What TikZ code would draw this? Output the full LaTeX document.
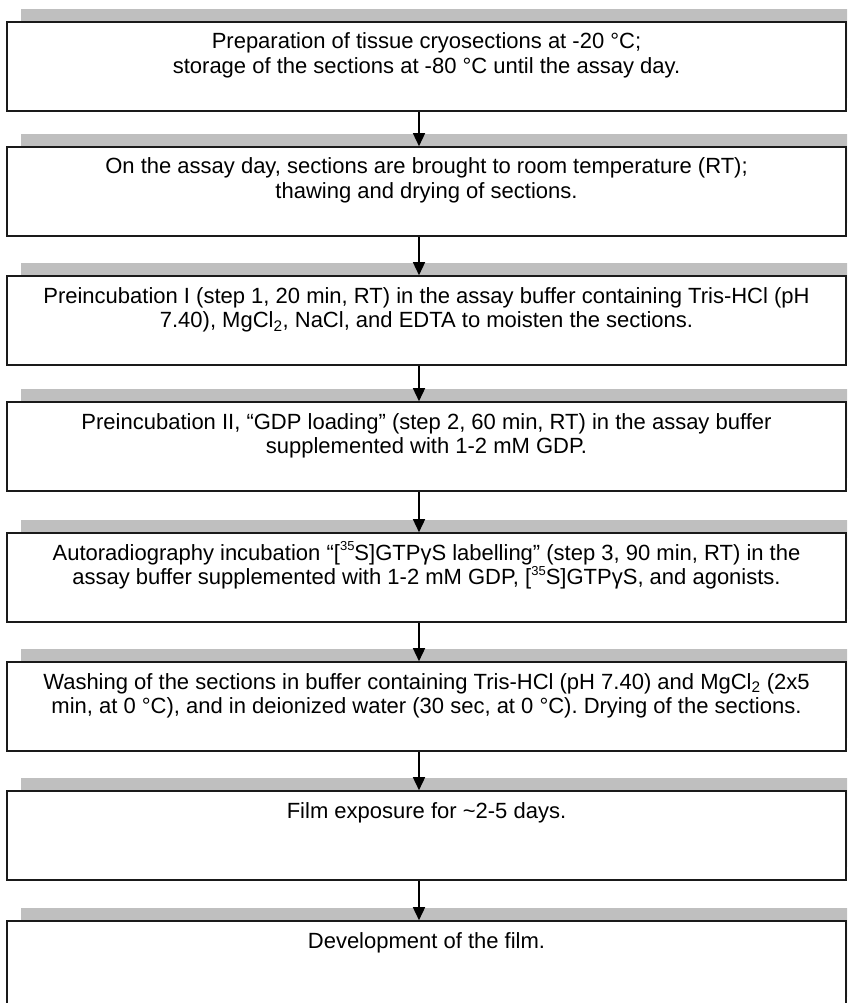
\documentclass[tikz,border=0pt]{standalone}
\usepackage{fontspec}
\setmainfont{Liberation Sans}
\usetikzlibrary{arrows.meta,shadows}
\definecolor{band}{HTML}{BFBFBF}
\definecolor{ink}{HTML}{1A1A1A}
\newcommand{\steplines}[1]{\parbox[t]{836pt}{\centering\fontsize{22}{24.5}\selectfont #1}}
\newcommand{\isotopesup}{\raisebox{0.8ex}{\fontsize{13}{13}\selectfont 35}}
\begin{document}
\begin{tikzpicture}[x=1pt,y=-1pt,
  stepbox/.style={draw=ink, line width=1.6pt, fill=white, minimum width=839pt,
    minimum height=89pt, inner sep=0pt,
    drop shadow={shadow xshift=14pt, shadow yshift=13pt, fill=band, opacity=1}},
  steptext/.style={anchor=base, inner sep=0pt},
  flow/.style={draw=black, line width=1.5pt, -{Triangle[width=12pt,length=13pt]}}]
\useasboundingbox (0,0) rectangle (847,1003);
\begin{scope}
\clip (0,0) rectangle (847,1003);
\coordinate (ax) at (419,0);
% boxes
\node[stepbox] (b1) at (426.5, 66.5) {};
\node[stepbox] (b2) at (426.5,191.5) {};
\node[stepbox] (b3) at (426.5,320.5) {};
\node[stepbox] (b4) at (426.5,446.5) {};
\node[stepbox] (b5) at (426.5,577.5) {};
\node[stepbox] (b6) at (426.5,706.5) {};
\node[stepbox] (b7) at (426.5,835.5) {};
\node[stepbox] (b8) at (426.5,965.5) {};
% texts
\node[steptext] (t1) at (426.5, 49) {\steplines{Preparation of tissue cryosections at -20 °C;\\ storage of the sections at -80 °C until the assay day.}};
\node[steptext] (t2) at (426.5,174) {\steplines{On the assay day, sections are brought to room temperature (RT);\\ thawing and drying of sections.}};
\node[steptext] (t3) at (426.5,303) {\steplines{Preincubation I (step 1, 20 min, RT) in the assay buffer containing Tris-HCl (pH\\ 7.40), MgCl\textsubscript{2}, NaCl, and EDTA to moisten the sections.}};
\node[steptext] (t4) at (426.5,429) {\steplines{Preincubation II, “GDP loading” (step 2, 60 min, RT) in the assay buffer\\ supplemented with 1-2 mM GDP.}};
\node[steptext] (t5) at (426.5,560) {\steplines{Autoradiography incubation “[\isotopesup S]GTPγS labelling” (step 3, 90 min, RT) in the\\ assay buffer supplemented with 1-2 mM GDP, [\isotopesup S]GTPγS, and agonists.}};
\node[steptext] (t6) at (426.5,689) {\steplines{Washing of the sections in buffer containing Tris-HCl (pH 7.40) and MgCl\textsubscript{2} (2x5\\ min, at 0 °C), and in deionized water (30 sec, at 0 °C). Drying of the sections.}};
\node[steptext] (t7) at (426.5,818) {\steplines{Film exposure for \textasciitilde 2-5 days.}};
\node[steptext] (t8) at (426.5,948) {\steplines{Development of the film.}};
% connectors
\draw[flow] (b1.south -| ax) -- (b2.north -| ax);
\draw[flow] (b2.south -| ax) -- (b3.north -| ax);
\draw[flow] (b3.south -| ax) -- (b4.north -| ax);
\draw[flow] (b4.south -| ax) -- (b5.north -| ax);
\draw[flow] (b5.south -| ax) -- (b6.north -| ax);
\draw[flow] (b6.south -| ax) -- (b7.north -| ax);
\draw[flow] (b7.south -| ax) -- (b8.north -| ax);
\end{scope}
\end{tikzpicture}
\end{document}
